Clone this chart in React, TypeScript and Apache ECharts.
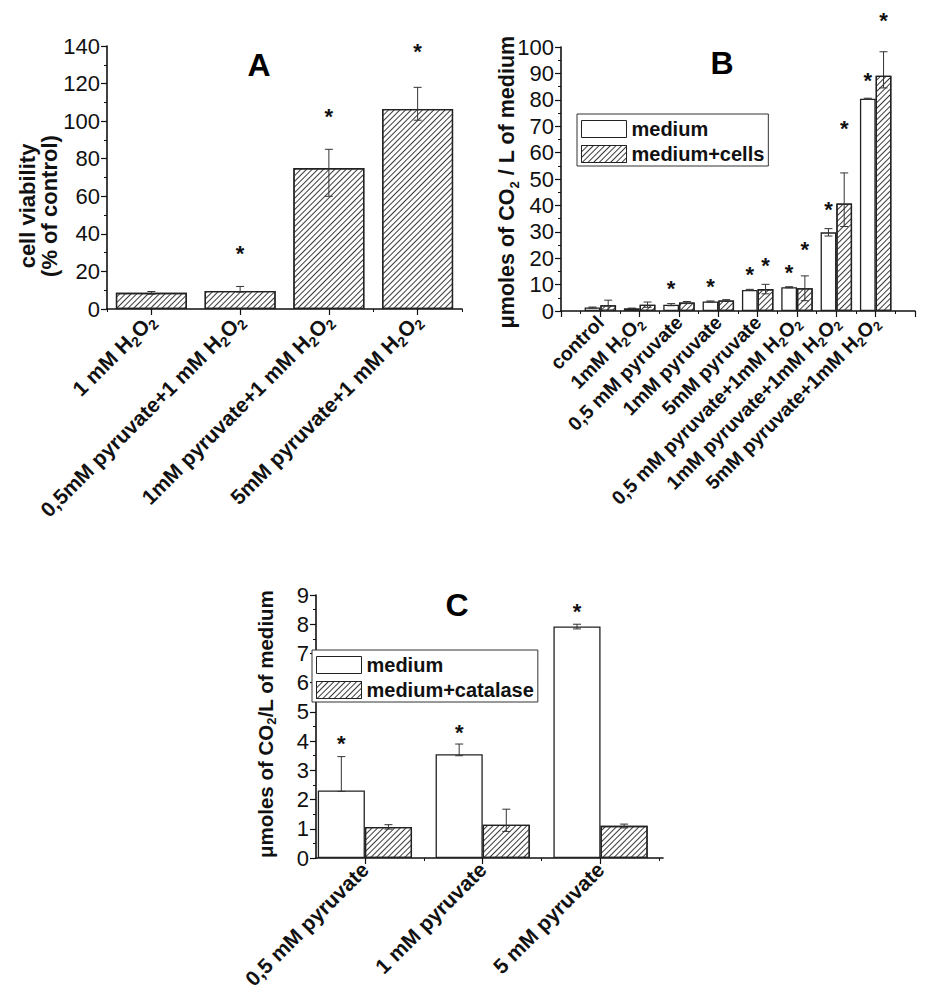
import React, { useEffect, useRef } from 'react';
import * as echarts from 'echarts';

const FONT = '"Liberation Sans", Arial, Helvetica, sans-serif';

// Panel A
const catsA = ['1 mM H2O2', '0,5mM pyruvate+1 mM H2O2', '1mM pyruvate+1 mM H2O2', '5mM pyruvate+1 mM H2O2'];
const valsA = [8.6, 9.6, 75, 106.5];
const errUpA = [0.7, 2.4, 10, 11.5];
const errDnA = [0.7, 0.6, 15, 6];
const starsA: (number | null)[] = [null, 32, 105, 139.5];
const yTicksA = { min: 0, max: 140, interval: 20 };

// Panel B
const catsB = ['control', '1mM H2O2', '0,5 mM pyruvate', '1mM pyruvate', '5mM pyruvate', '0,5 mM pyruvate+1mM H2O2', '1mM pyruvate+1mM H2O2', '5mM pyruvate+1mM H2O2'];
const mediumB = [1.3, 1.0, 2.4, 3.6, 8.0, 9.0, 29.8, 80.4];
const mediumErrB = [0.2, 0.1, 0.4, 0.2, 0.2, 0.2, 1.4, 0.2];
const cellsB = [2.2, 2.4, 3.2, 4.0, 8.3, 8.6, 40.7, 89.1];
const cellsErrUpB = [1.9, 1.0, 0.4, 0.3, 1.8, 4.7, 11.6, 9.1];
const cellsErrDnB = [1.9, 1.0, 0.4, 0.3, 1.8, 4.7, 8.7, 4.6];
const starsMediumB: (number | null)[] = [null, null, 10.5, 11.1, 15.8, 16.4, 40.2, 89.1];
const starsCellsB: (number | null)[] = [null, null, null, null, 19.1, 25.3, 71.2, 112];
const yTicksB = { min: 0, max: 100, interval: 10 };

// Panel C
const catsC = ['0,5 mM pyruvate', '1 mM pyruvate', '5 mM pyruvate'];
const mediumC = [2.31, 3.55, 7.92];
const mediumErrUpC = [1.16, 0.35, 0.08];
const mediumErrDnC = [0.03, 0.05, 0.08];
const catalaseC = [1.06, 1.14, 1.1];
const catalaseErrUpC = [0.08, 0.53, 0.06];
const catalaseErrDnC = [0.07, 0.23, 0.07];
const starsMediumC = [4.1, 4.48, 8.6];
const yTicksC = { min: 0, max: 9, interval: 1 };

const sub = (s: string) => s.replace(/H2O2/g, 'H{s|2}O{s|2}');

const hatch = {
  symbol: 'rect',
  symbolSize: 1,
  dashArrayX: [1, 0],
  dashArrayY: [1, 3],
  rotation: -Math.PI / 4,
  color: '#3a3a3a',
};

const axisLineStyle = { show: true, onZero: false, lineStyle: { color: '#111', width: 1.6 } };

function yAxis(gridIndex: number, t: { min: number; max: number; interval: number }) {
  return {
    type: 'value',
    gridIndex,
    min: t.min,
    max: t.max,
    interval: t.interval,
    axisLine: axisLineStyle,
    axisTick: { show: true, inside: false, length: 6, lineStyle: { color: '#111', width: 1.2 } },
    minorTick: { show: true, splitNumber: 2, length: 3, lineStyle: { color: '#111', width: 1 } },
    splitLine: { show: false },
    minorSplitLine: { show: false },
    axisLabel: { fontSize: 22, color: '#111', margin: 7, fontFamily: FONT },
  };
}

function xLabel(fs: number) {
  const ss = Math.round(fs * 0.65);
  return {
    rotate: 45,
    fontSize: fs,
    fontWeight: 'bold',
    color: '#111',
    fontFamily: FONT,
    margin: 8,
    lineHeight: fs + 6,
    rich: {
      s: { fontSize: ss, fontWeight: 'bold', fontFamily: FONT, color: '#111', lineHeight: ss, verticalAlign: 'bottom' },
    },
  };
}

function errRender(params: any, api: any) {
  const x = api.value(0);
  const v = api.value(1);
  const up = api.value(2);
  const dn = api.value(3);
  const side = api.value(4);
  const band = api.size([1, 0])[0];
  const off = side * band * 0.2;
  const top = api.coord([x, v + up]);
  const bot = api.coord([x, v - dn]);
  const cx = top[0] + off;
  const cap = 4;
  const style = { stroke: '#333', lineWidth: 1 };
  return {
    type: 'group',
    children: [
      { type: 'line', shape: { x1: cx, y1: top[1], x2: cx, y2: bot[1] }, style },
      { type: 'line', shape: { x1: cx - cap, y1: top[1], x2: cx + cap, y2: top[1] }, style },
      { type: 'line', shape: { x1: cx - cap, y1: bot[1], x2: cx + cap, y2: bot[1] }, style },
    ],
  };
}

function starRender(params: any, api: any) {
  const x = api.value(0);
  const v = api.value(1);
  const side = api.value(2);
  const band = api.size([1, 0])[0];
  const p = api.coord([x, v]);
  return {
    type: 'text',
    x: p[0] + side * band * 0.2,
    y: p[1] + 5,
    style: {
      text: '*',
      fontSize: 22,
      fontWeight: 'bold',
      fontFamily: FONT,
      fill: '#111',
      align: 'center',
      verticalAlign: 'middle',
    },
  };
}

function starData(vals: (number | null)[], xOf: (i: number) => number, side: number) {
  const out: number[][] = [];
  vals.forEach((v, i) => {
    if (v != null) out.push([xOf(i), v, side]);
  });
  return out;
}

function errData(vals: number[], up: number[], dn: number[], xOf: (i: number) => number, side: number) {
  return vals.map((v, i) => [xOf(i), v, up[i], dn[i], side]);
}

function vText(text: string, x: number, y: number, fs: number) {
  const ss = Math.round(fs * 0.62);
  return {
    type: 'text',
    x,
    y,
    rotation: Math.PI / 2,
    style: {
      text,
      fontSize: fs,
      fontWeight: 'bold',
      fontFamily: FONT,
      fill: '#111',
      align: 'center',
      verticalAlign: 'middle',
      rich: { s: { fontSize: ss, fontWeight: 'bold', fontFamily: FONT, fill: '#111', lineHeight: ss, verticalAlign: 'bottom' } },
      lineHeight: fs + 6,
    },
  };
}

function title(text: string, x: number, y: number) {
  return {
    type: 'text',
    x,
    y,
    style: { text, fontSize: 32, fontWeight: 'bold', fontFamily: FONT, fill: '#000', align: 'center', verticalAlign: 'middle' },
  };
}

const barBase = { color: '#fff', borderColor: '#222', borderWidth: 1.3 };

const legendBase = {
  orient: 'vertical',
  icon: 'rect',
  itemWidth: 45,
  itemHeight: 17,
  itemGap: 5,
  backgroundColor: '#fff',
  borderColor: '#333',
  borderWidth: 1,
  borderRadius: 0,
  padding: [5, 4, 2, 4],
  itemStyle: { borderColor: '#222', borderWidth: 1 },
  textStyle: { fontSize: 20, fontWeight: 'bold', fontFamily: FONT, color: '#111' },
  selectedMode: false,
};

const option: any = {
  animation: false,
  backgroundColor: '#fff',
  textStyle: { fontFamily: FONT },
  grid: [
    { left: 107, top: 46, width: 355, height: 263 },
    { left: 561, top: 47, width: 354, height: 264 },
    { left: 316, top: 595, width: 347, height: 263 },
  ],
  legend: [
    { ...legendBase, left: 577, top: 114, data: ['medium', 'medium+cells'] },
    { ...legendBase, left: 312, top: 650, data: ['medium', 'medium+catalase'] },
  ],
  xAxis: [
    {
      type: 'category',
      gridIndex: 0,
      data: catsA,
      position: 'bottom',
      axisLine: axisLineStyle,
      axisTick: { show: true, alignWithLabel: true, length: 6, lineStyle: { color: '#111', width: 1.2 } },
      axisLabel: { ...xLabel(21), interval: 0, formatter: (v: string) => sub(v) },
      splitLine: { show: false },
    },
    {
      type: 'category',
      gridIndex: 0,
      data: catsA,
      position: 'bottom',
      axisLine: { show: false },
      axisTick: { show: true, alignWithLabel: false, length: 3, lineStyle: { color: '#111', width: 1 } },
      axisLabel: { show: false },
      splitLine: { show: false },
    },
    {
      type: 'value',
      gridIndex: 1,
      min: 0,
      max: 9,
      interval: 1,
      position: 'bottom',
      axisLine: axisLineStyle,
      axisTick: { show: true, length: 6, lineStyle: { color: '#111', width: 1.2 } },
      minorTick: { show: true, splitNumber: 2, length: 3, lineStyle: { color: '#111', width: 1 } },
      splitLine: { show: false },
      minorSplitLine: { show: false },
      axisLabel: {
        ...xLabel(19.5),
        formatter: (v: number) => (v >= 1 && v <= catsB.length && Number.isInteger(v) ? sub(catsB[v - 1]) : ''),
      },
    },
    {
      type: 'value',
      gridIndex: 2,
      min: 0.585,
      max: 3.53,
      position: 'bottom',
      axisLine: axisLineStyle,
      axisTick: { show: true, length: 6, customValues: [1, 2, 3], lineStyle: { color: '#111', width: 1.2 } },
      splitLine: { show: false },
      axisLabel: {
        ...xLabel(21),
        customValues: [1, 2, 3],
        formatter: (v: number) => sub(catsC[Math.round(v) - 1] || ''),
      },
    },
    {
      type: 'value',
      gridIndex: 2,
      min: 0.585,
      max: 3.53,
      position: 'bottom',
      axisLine: { show: false },
      axisTick: { show: true, length: 3, customValues: [1.5, 2.5, 3.5], lineStyle: { color: '#111', width: 1 } },
      splitLine: { show: false },
      axisLabel: { show: false },
    },
  ],
  yAxis: [yAxis(0, yTicksA), yAxis(1, yTicksB), yAxis(2, yTicksC)],
  series: [
    // A
    {
      type: 'bar',
      xAxisIndex: 0,
      yAxisIndex: 0,
      data: valsA,
      barCategoryGap: '20%',
      itemStyle: { ...barBase, decal: hatch },
      silent: true,
    },
    {
      type: 'custom',
      xAxisIndex: 0,
      yAxisIndex: 0,
      renderItem: errRender,
      data: errData(valsA, errUpA, errDnA, (i) => i, 0),
      z: 5,
      silent: true,
    },
    {
      type: 'custom',
      xAxisIndex: 0,
      yAxisIndex: 0,
      renderItem: starRender,
      data: starData(starsA, (i) => i, 0),
      z: 5,
      silent: true,
    },
    // B
    {
      type: 'bar',
      name: 'medium',
      xAxisIndex: 2,
      yAxisIndex: 1,
      data: mediumB.map((v, i) => [i + 1, v]),
      barGap: '0%',
      barCategoryGap: '20%',
      itemStyle: { ...barBase },
      silent: true,
    },
    {
      type: 'bar',
      name: 'medium+cells',
      xAxisIndex: 2,
      yAxisIndex: 1,
      data: cellsB.map((v, i) => [i + 1, v]),
      barGap: '0%',
      barCategoryGap: '20%',
      itemStyle: { ...barBase, decal: hatch },
      silent: true,
    },
    {
      type: 'custom',
      xAxisIndex: 2,
      yAxisIndex: 1,
      renderItem: errRender,
      data: errData(mediumB, mediumErrB, mediumErrB, (i) => i + 1, -1).concat(
        errData(cellsB, cellsErrUpB, cellsErrDnB, (i) => i + 1, 1)
      ),
      z: 5,
      silent: true,
    },
    {
      type: 'custom',
      xAxisIndex: 2,
      yAxisIndex: 1,
      renderItem: starRender,
      data: starData(starsMediumB, (i) => i + 1, -1).concat(starData(starsCellsB, (i) => i + 1, 1)),
      z: 5,
      silent: true,
    },
    // C
    {
      type: 'bar',
      name: 'medium',
      xAxisIndex: 3,
      yAxisIndex: 2,
      data: mediumC.map((v, i) => [i + 1, v]),
      barGap: '0%',
      barCategoryGap: '20%',
      itemStyle: { ...barBase },
      silent: true,
    },
    {
      type: 'bar',
      name: 'medium+catalase',
      xAxisIndex: 3,
      yAxisIndex: 2,
      data: catalaseC.map((v, i) => [i + 1, v]),
      barGap: '0%',
      barCategoryGap: '20%',
      itemStyle: { ...barBase, decal: hatch },
      silent: true,
    },
    {
      type: 'custom',
      xAxisIndex: 3,
      yAxisIndex: 2,
      renderItem: errRender,
      data: errData(mediumC, mediumErrUpC, mediumErrDnC, (i) => i + 1, -1).concat(
        errData(catalaseC, catalaseErrUpC, catalaseErrDnC, (i) => i + 1, 1)
      ),
      z: 5,
      silent: true,
    },
    {
      type: 'custom',
      xAxisIndex: 3,
      yAxisIndex: 2,
      renderItem: starRender,
      data: starData(starsMediumC, (i) => i + 1, -1),
      z: 5,
      silent: true,
    },
  ],
  graphic: [
    title('A', 259, 65),
    title('B', 722, 63),
    title('C', 457, 605),
    vText('cell viability', 27, 206, 22),
    vText('(% of control)', 49, 206, 22),
    vText('μmoles of CO{s|2} / L of medium', 507, 182, 21.5),
    vText('μmoles of CO{s|2}/L of medium', 265, 724, 20.5),
  ],
};

export default function App() {
  const ref = useRef<HTMLDivElement>(null);
  useEffect(() => {
    if (!ref.current) return;
    const chart = echarts.init(ref.current, null, { renderer: 'svg' });
    chart.setOption(option);
    return () => chart.dispose();
  }, []);
  return (
    <div
      ref={ref}
      style={{ position: 'absolute', left: 0, top: 0, width: 928, height: 1000, background: '#fff' }}
    />
  );
}
